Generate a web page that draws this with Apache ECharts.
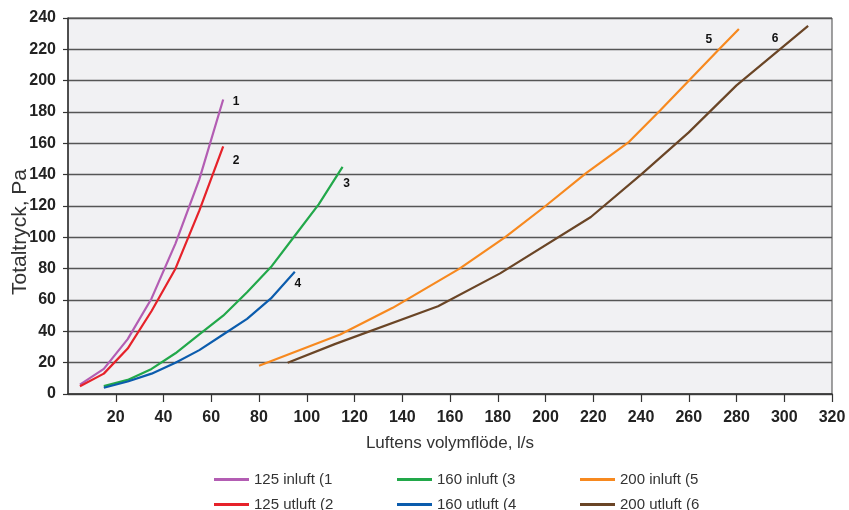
<!DOCTYPE html>
<html>
<head>
<meta charset="utf-8">
<script src="https://cdn.jsdelivr.net/npm/echarts@6/dist/echarts.min.js"></script>
<style>
  html, body { margin: 0; padding: 0; background: #fff; }
  #chart { width: 849px; height: 510px; }
</style>
</head>
<body>
<div id="chart"></div>
<script>
// flow (l/s) and total pressure (Pa)
const flow125 = [5, 15, 25, 35, 45, 55, 65]
const inluft125 = [6, 16, 35, 61, 96, 137, 188]
const utluft125 = [5, 13, 29, 53, 80, 117, 158]

const flow160in = [15, 25, 35, 45, 55, 65, 75, 85, 95, 105, 115]
const inluft160 = [5, 9, 16, 26, 38, 50, 65, 81, 101, 121, 145]
const flow160ut = [15, 25, 35, 45, 55, 65, 75, 85, 95]
const utluft160 = [4, 8, 13, 20, 28, 38, 48, 61, 78]

const flow200in = [80, 114, 136, 164, 183, 200, 217, 235, 248, 260, 272, 281]
const inluft200 = [18, 38, 55, 80, 100, 120, 141, 161, 181, 200, 219, 233]
const flow200ut = [92, 112, 155, 181, 219, 240, 260, 280, 310]
const utluft200 = [20, 32, 56, 77, 113, 140, 167, 197, 235]

const seriesNames = ['125 inluft (1', '125 utluft (2', '160 inluft (3', '160 utluft (4', '200 inluft (5', '200 utluft (6']
const endTags = ['1', '2', '3', '4', '5', '6']
const colors = ['#b35db3', '#e6222a', '#22a84a', '#0b5cad', '#f7891f', '#6a4526']
// where the little number sits relative to the curve end
const tagOffsets = [[13, 2], [13, 14], [4, 17], [3, 12], [-30, 11], [-33, 13]]
// legend grid: 3 columns, 2 rows
const legendLefts = [214, 214, 397, 397, 580, 580]
const legendTops = [472, 497, 472, 497, 472, 497]

const curves = [
  [flow125, inluft125],
  [flow125, utluft125],
  [flow160in, inluft160],
  [flow160ut, utluft160],
  [flow200in, inluft200],
  [flow200ut, utluft200],
]

const chart = echarts.init(document.getElementById('chart'))

const series = curves.map(([xs, ys], i) => {
  const data = xs.map((x, k) => [x, ys[k]])
  return {
    name: seriesNames[i],
    type: 'line',
    data,
    showSymbol: false,
    symbol: 'none',
    lineStyle: { color: colors[i], width: 2.2 },
    itemStyle: { color: colors[i] },
    markPoint: {
      symbol: 'circle',
      symbolSize: 1,
      itemStyle: { color: 'transparent' },
      label: {
        show: true,
        formatter: endTags[i],
        position: 'inside',
        offset: tagOffsets[i],
        color: '#111',
        fontSize: 12,
        fontWeight: 'bold',
        fontFamily: 'Liberation Sans',
      },
      data: [{ coord: data[data.length - 1] }],
    },
  }
})

const legends = seriesNames.map((name, i) => ({
  left: legendLefts[i],
  top: legendTops[i],
  padding: 0,
  itemWidth: 35,
  itemHeight: 3,
  icon: 'rect',
  selectedMode: false,
  textStyle: { color: '#333', fontSize: 15, fontFamily: 'Liberation Sans' },
  data: [name],
}))

chart.setOption({
  animation: false,
  backgroundColor: '#fff',
  grid: {
    left: 68, right: 17, top: 18, bottom: 116,
    show: true,
    backgroundColor: '#f1f1f3',
    borderColor: '#444',
    borderWidth: 1,
  },
  legend: legends,
  xAxis: {
    type: 'value',
    min: 0, max: 320, interval: 20,
    name: 'Luftens volymflöde, l/s',
    nameLocation: 'middle',
    nameGap: 41,
    nameTextStyle: { color: '#333', fontSize: 17, fontFamily: 'Liberation Sans' },
    axisLine: { show: true, onZero: false, lineStyle: { color: '#333', width: 1.5 } },
    axisTick: { show: true, length: 8, lineStyle: { color: '#333', width: 1.2 } },
    axisLabel: {
      showMinLabel: false,
      margin: 16,
      color: '#222', fontSize: 16, fontWeight: 'bold', fontFamily: 'Liberation Sans',
    },
    splitLine: { show: false },
  },
  yAxis: {
    type: 'value',
    min: 0, max: 240, interval: 20,
    axisLine: { show: true, lineStyle: { color: '#333', width: 1.5 } },
    axisTick: { show: true, length: 5, lineStyle: { color: '#333', width: 1.2 } },
    axisLabel: {
      margin: 12,
      color: '#222', fontSize: 16, fontWeight: 'bold', fontFamily: 'Liberation Sans',
    },
    splitLine: { show: true, lineStyle: { color: '#555', width: 1.4 } },
  },
  graphic: [
    {
      type: 'text',
      x: 20,
      y: 232,
      rotation: Math.PI / 2,
      style: {
        text: 'Totaltryck, Pa',
        fill: '#333',
        fontSize: 21,
        fontFamily: 'Liberation Sans',
        align: 'center',
        verticalAlign: 'middle',
      },
    },
  ],
  series,
})
</script>
</body>
</html>
